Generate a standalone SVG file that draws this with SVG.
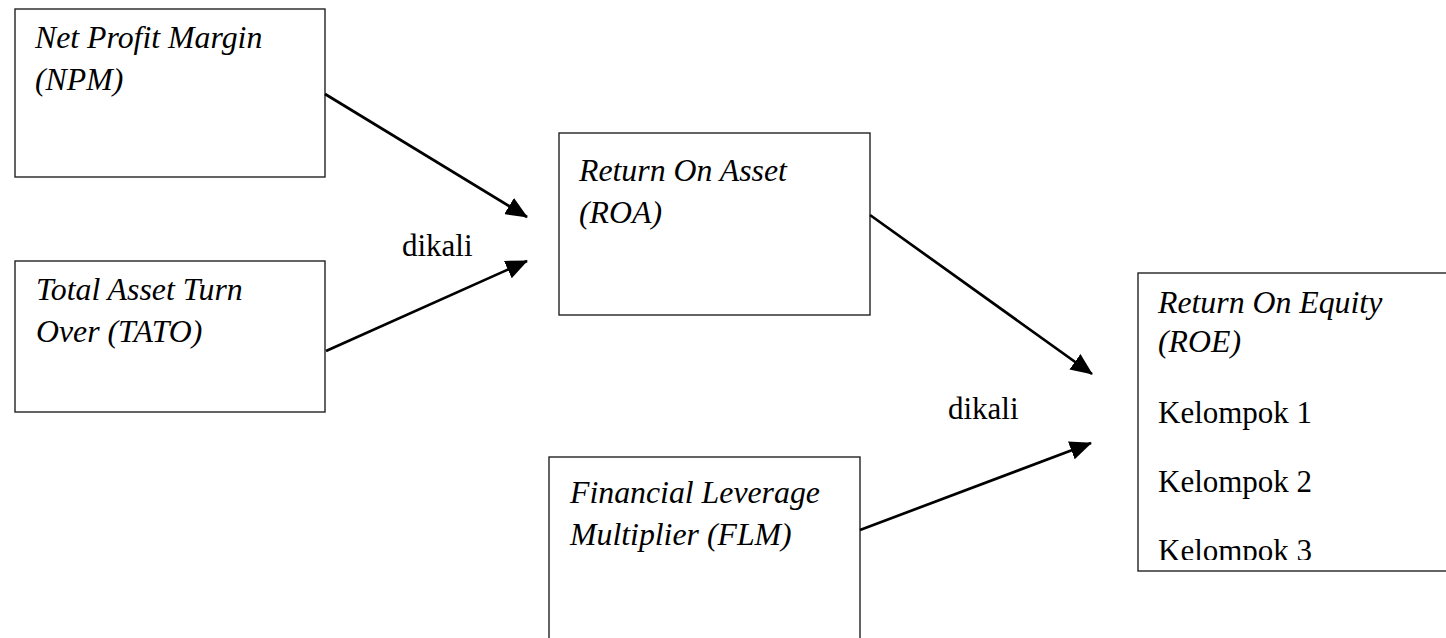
<svg xmlns="http://www.w3.org/2000/svg" width="1446" height="638" viewBox="0 0 1446 638">
<style>
.box{fill:#fff;stroke:#222;stroke-width:1.4}
.t{font-family:"Liberation Serif","Times New Roman",serif;font-size:31px;fill:#000}
.i{font-style:italic;font-size:31.8px}
.conn{stroke:#000;stroke-width:2.7;fill:none;marker-end:url(#ah)}
</style>
<defs>
<marker id="ah" markerUnits="userSpaceOnUse" markerWidth="22" markerHeight="19" viewBox="0 0 22 19" refX="21" refY="9.5" orient="auto">
<path d="M0,0 L22,9.5 L0,19 Z" fill="#000"/>
</marker>
<clipPath id="roeclip"><rect x="1138" y="273" width="310" height="287"/></clipPath>
</defs>
<rect width="1446" height="638" fill="#fff"/>
<g id="npm">
<rect class="box" x="15" y="9" width="310" height="168"/>
<text class="t i" x="35" y="48">Net Profit Margin</text>
<text class="t i" x="35" y="90">(NPM)</text>
</g>
<g id="tato">
<rect class="box" x="15" y="261" width="310" height="151"/>
<text class="t i" x="36" y="300">Total Asset Turn</text>
<text class="t i" x="36" y="342">Over (TATO)</text>
</g>
<g id="roa">
<rect class="box" x="559" y="133" width="311" height="182"/>
<text class="t i" x="579" y="181">Return On Asset</text>
<text class="t i" x="579" y="223">(ROA)</text>
</g>
<g id="flm">
<rect class="box" x="549" y="457" width="311" height="190"/>
<text class="t i" x="570" y="503">Financial Leverage</text>
<text class="t i" x="570" y="545">Multiplier (FLM)</text>
</g>
<g id="roe">
<rect class="box" x="1138" y="273" width="320" height="298"/>
<g clip-path="url(#roeclip)">
<text class="t i" x="1158" y="313">Return On Equity</text>
<text class="t i" x="1158" y="352">(ROE)</text>
<text class="t" x="1158" y="423">Kelompok 1</text>
<text class="t" x="1158" y="492">Kelompok 2</text>
<text class="t" x="1158" y="561">Kelompok 3</text>
</g>
</g>
<g id="connectors">
<line class="conn" x1="325" y1="94" x2="527" y2="217"/>
<line class="conn" x1="326" y1="351" x2="527" y2="261"/>
<line class="conn" x1="870" y1="215" x2="1092" y2="374"/>
<line class="conn" x1="860" y1="530" x2="1091" y2="443"/>
</g>
<g id="labels">
<text class="t" x="402" y="256">dikali</text>
<text class="t" x="948" y="419">dikali</text>
</g>
</svg>
